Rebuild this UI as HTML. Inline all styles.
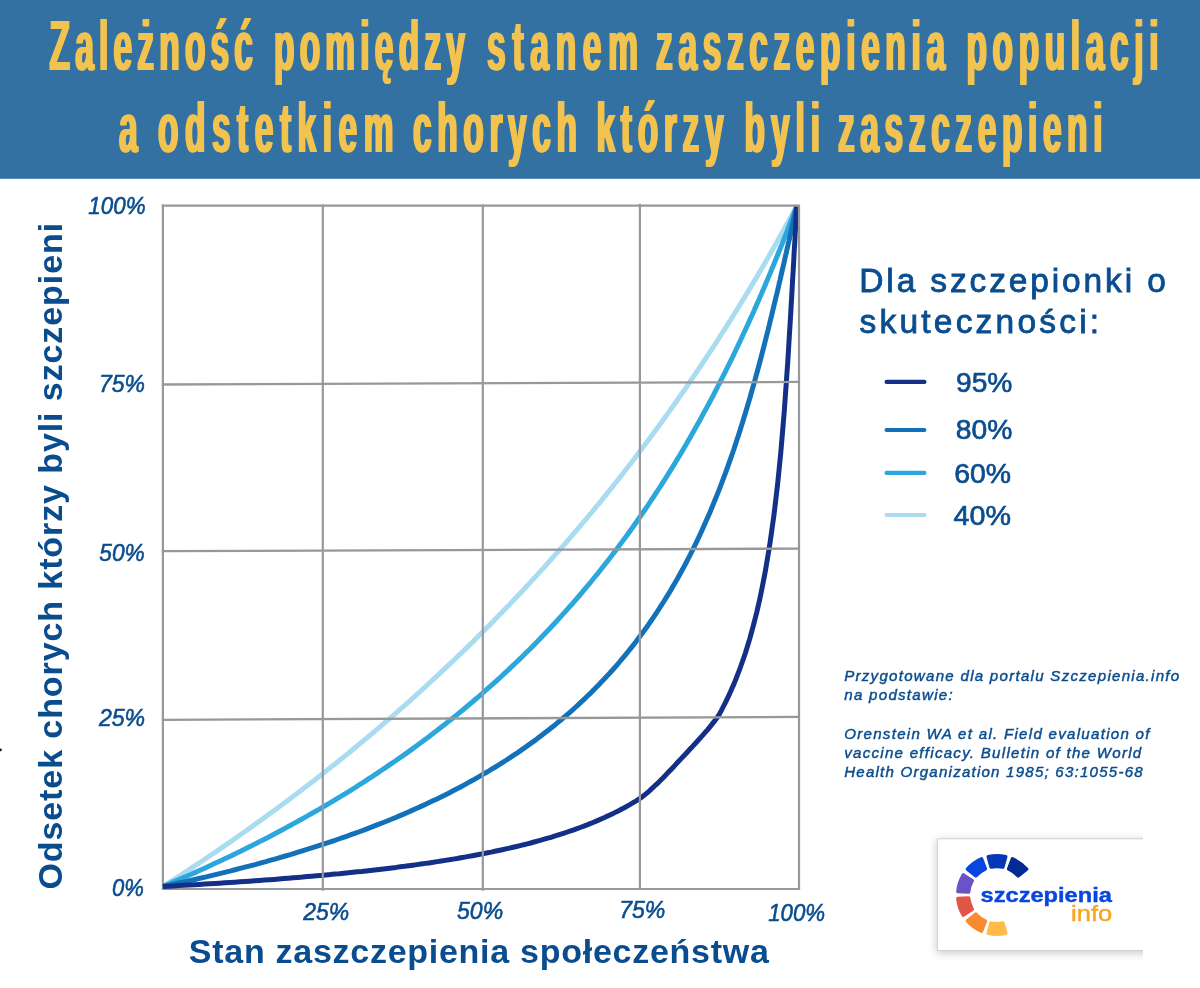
<!DOCTYPE html>
<html lang="pl"><head><meta charset="utf-8"><title>Zależność pomiędzy stanem zaszczepienia populacji a odstetkiem chorych którzy byli zaszczepieni</title>
<style>
html,body{margin:0;padding:0;background:#fff;}
body{width:1200px;height:988px;overflow:hidden;font-family:"Liberation Sans",sans-serif;}
svg{display:block}
text{font-family:"Liberation Sans",sans-serif;}
.tick{font-style:italic;font-size:23.5px;fill:#0a4d8f;stroke:#0a4d8f;stroke-width:.55px}
.ax{font-weight:bold;font-size:34px;fill:#0a4d8f}
.leg{font-size:28.3px;fill:#0a4d8f;stroke:#0a4d8f;stroke-width:.7px}
.cred{font-style:italic;font-size:15.1px;fill:#0a4d8f;stroke:#0a4d8f;stroke-width:.45px}
.title{font-weight:bold;font-size:70.5px;fill:#f2c34f}
</style></head><body>
<svg width="1200" height="988" viewBox="0 0 1200 988">
<defs>
<filter id="sh" x="-20%" y="-20%" width="140%" height="150%"><feGaussianBlur stdDeviation="4.2"/></filter>
<filter id="hb" x="-2%" y="-10%" width="104%" height="130%"><feOffset in="SourceGraphic" dx="-1.3" result="a"/><feOffset in="SourceGraphic" dx="1.3" result="b"/><feMerge><feMergeNode in="a"/><feMergeNode in="SourceGraphic"/><feMergeNode in="b"/></feMerge></filter>
<clipPath id="plot"><rect x="161.8" y="204.5" width="638.3" height="685.6"/></clipPath>
<clipPath id="logoclip"><rect x="900" y="800" width="243" height="188"/></clipPath>
</defs>
<rect x="0" y="0" width="1200" height="178.8" fill="#3471a3"/>

<g filter="url(#hb)">
<text class="title" transform="translate(0,70.0) scale(0.475,1)" y="0"><tspan x="104.2" textLength="428.4" lengthAdjust="spacing">Zależność</tspan> <tspan x="576.8" textLength="402.1" lengthAdjust="spacing">pomiędzy</tspan> <tspan x="1025.3" textLength="317.9" lengthAdjust="spacing">stanem</tspan> <tspan x="1381.1" textLength="608.4" lengthAdjust="spacing">zaszczepienia</tspan> <tspan x="2034.7" textLength="404.2" lengthAdjust="spacing">populacji</tspan></text>
<text class="title" transform="translate(0,151.6) scale(0.475,1)" y="0"><tspan x="250.5" textLength="34.7" lengthAdjust="spacing">a</tspan> <tspan x="332.6" textLength="495.8" lengthAdjust="spacing">odstetkiem</tspan> <tspan x="869.5" textLength="345.3" lengthAdjust="spacing">chorych</tspan> <tspan x="1255.8" textLength="267.4" lengthAdjust="spacing">którzy</tspan> <tspan x="1567.4" textLength="158.9" lengthAdjust="spacing">byli</tspan> <tspan x="1764.2" textLength="556.8" lengthAdjust="spacing">zaszczepieni</tspan></text>
</g>
<path d="M162.9,890.1 V204.5 M161.8,889 H800.1" fill="none" stroke="#96989a" stroke-width="2.2"/>
<g clip-path="url(#plot)">
<path d="M162.9,886.5 L168.2,883.1 L173.6,879.7 L178.9,876.3 L184.2,872.8 L189.4,869.4 L194.6,865.9 L199.9,862.5 L205.1,859.0 L210.2,855.5 L215.4,852.1 L220.5,848.6 L225.6,845.1 L230.7,841.6 L235.7,838.1 L240.7,834.5 L245.8,831.0 L250.7,827.5 L255.7,823.9 L260.6,820.4 L265.6,816.8 L270.4,813.3 L275.3,809.7 L280.2,806.1 L285.0,802.5 L289.8,798.9 L294.6,795.3 L299.3,791.7 L304.1,788.1 L308.8,784.5 L313.5,780.9 L318.1,777.3 L322.8,773.6 L327.4,770.0 L332.0,766.3 L336.6,762.7 L341.1,759.0 L345.7,755.4 L350.2,751.7 L354.6,748.0 L359.1,744.3 L363.5,740.7 L368.0,737.0 L372.4,733.3 L376.7,729.6 L381.1,725.9 L385.4,722.2 L389.7,718.5 L394.0,714.8 L398.2,711.0 L402.5,707.3 L406.7,703.6 L410.9,699.9 L415.0,696.1 L419.2,692.4 L423.3,688.7 L427.4,684.9 L431.4,681.2 L435.5,677.4 L439.5,673.7 L443.5,669.9 L447.5,666.2 L451.5,662.4 L455.4,658.7 L459.3,654.9 L463.2,651.2 L467.1,647.4 L470.9,643.7 L474.7,639.9 L478.5,636.1 L482.3,632.4 L486.0,628.6 L489.8,624.9 L493.5,621.1 L497.1,617.3 L500.8,613.6 L504.4,609.8 L508.1,606.1 L511.6,602.3 L515.2,598.6 L518.8,594.8 L522.3,591.1 L525.8,587.3 L529.2,583.6 L532.7,579.8 L536.1,576.1 L539.5,572.4 L542.9,568.6 L546.3,564.9 L549.6,561.2 L552.9,557.4 L556.2,553.7 L559.5,550.0 L562.7,546.3 L566.0,542.6 L569.2,538.9 L572.3,535.2 L575.5,531.5 L578.6,527.9 L581.7,524.2 L584.8,520.5 L587.9,516.9 L590.9,513.2 L593.9,509.6 L596.9,505.9 L599.9,502.3 L602.9,498.7 L605.8,495.1 L608.7,491.4 L611.6,487.9 L614.4,484.3 L617.3,480.7 L620.1,477.1 L622.9,473.6 L625.6,470.0 L628.4,466.5 L631.1,463.0 L633.8,459.4 L636.5,455.9 L639.1,452.5 L641.7,449.0 L644.3,445.5 L646.9,442.1 L649.5,438.6 L652.0,435.2 L654.6,431.8 L657.0,428.4 L659.5,425.0 L662.0,421.6 L664.4,418.3 L666.8,414.9 L669.2,411.6 L671.5,408.3 L673.9,405.0 L676.2,401.7 L678.5,398.4 L680.7,395.2 L683.0,392.0 L685.2,388.8 L687.4,385.6 L689.6,382.4 L691.7,379.2 L693.9,376.1 L696.0,373.0 L698.1,369.9 L700.1,366.8 L702.2,363.8 L704.2,360.7 L706.2,357.7 L708.2,354.7 L710.1,351.7 L712.1,348.8 L714.0,345.9 L715.9,343.0 L717.7,340.1 L719.6,337.2 L721.4,334.4 L723.2,331.5 L725.0,328.8 L726.7,326.0 L728.5,323.2 L730.2,320.5 L731.9,317.8 L733.5,315.2 L735.2,312.5 L736.8,309.9 L738.4,307.3 L740.0,304.7 L741.5,302.2 L743.1,299.7 L744.6,297.2 L746.1,294.8 L747.5,292.3 L749.0,289.9 L750.4,287.6 L751.8,285.2 L753.2,282.9 L754.6,280.6 L755.9,278.4 L757.2,276.2 L758.5,274.0 L759.8,271.8 L761.0,269.7 L762.3,267.6 L763.5,265.5 L764.6,263.5 L765.8,261.5 L766.9,259.5 L768.1,257.5 L769.2,255.6 L770.2,253.7 L771.3,251.9 L772.3,250.1 L773.3,248.3 L774.3,246.6 L775.3,244.9 L776.3,243.2 L777.2,241.5 L778.1,239.9 L779.0,238.4 L779.8,236.8 L780.7,235.3 L781.5,233.9 L782.3,232.4 L783.1,231.0 L783.8,229.7 L784.5,228.4 L785.3,227.1 L785.9,225.8 L786.6,224.6 L787.3,223.4 L787.9,222.3 L788.5,221.2 L789.1,220.1 L789.6,219.1 L790.2,218.1 L790.7,217.2 L791.2,216.3 L791.7,215.4 L792.1,214.5 L792.6,213.7 L793.0,213.0 L793.4,212.3 L793.7,211.6 L794.1,210.9 L794.4,210.3 L794.7,209.8 L795.0,209.2 L795.3,208.7 L795.5,208.3 L795.7,207.9 L795.9,207.5 L796.1,207.2 L796.3,206.9 L796.4,206.6 L796.5,206.4 L796.6,206.2 L796.7,206.1 L796.8,206.0 L796.8,205.9 L796.8,205.9" fill="none" stroke="#a9dcf0" stroke-width="5" stroke-linejoin="round" stroke-linecap="butt"/>
<path d="M162.9,886.5 L168.3,884.2 L173.6,881.9 L178.9,879.6 L184.2,877.3 L189.5,875.0 L194.8,872.6 L200.0,870.3 L205.2,867.9 L210.4,865.5 L215.5,863.1 L220.7,860.7 L225.8,858.3 L230.9,855.9 L235.9,853.4 L241.0,851.0 L246.0,848.5 L251.0,846.0 L256.0,843.5 L260.9,840.9 L265.9,838.4 L270.8,835.9 L275.7,833.3 L280.5,830.7 L285.4,828.1 L290.2,825.5 L295.0,822.9 L299.7,820.3 L304.5,817.6 L309.2,814.9 L313.9,812.3 L318.6,809.6 L323.2,806.8 L327.9,804.1 L332.5,801.4 L337.1,798.6 L341.6,795.9 L346.2,793.1 L350.7,790.3 L355.2,787.5 L359.6,784.6 L364.1,781.8 L368.5,778.9 L372.9,776.1 L377.3,773.2 L381.6,770.3 L385.9,767.4 L390.2,764.4 L394.5,761.5 L398.8,758.5 L403.0,755.6 L407.2,752.6 L411.4,749.6 L415.6,746.5 L419.7,743.5 L423.8,740.5 L427.9,737.4 L432.0,734.3 L436.0,731.2 L440.1,728.1 L444.1,725.0 L448.0,721.9 L452.0,718.7 L455.9,715.6 L459.8,712.4 L463.7,709.2 L467.5,706.0 L471.4,702.8 L475.2,699.5 L479.0,696.3 L482.7,693.0 L486.5,689.7 L490.2,686.4 L493.9,683.1 L497.6,679.8 L501.2,676.5 L504.8,673.1 L508.4,669.8 L512.0,666.4 L515.6,663.0 L519.1,659.6 L522.6,656.2 L526.1,652.8 L529.5,649.4 L533.0,645.9 L536.4,642.5 L539.8,639.0 L543.1,635.5 L546.5,632.0 L549.8,628.5 L553.1,625.0 L556.3,621.5 L559.6,617.9 L562.8,614.4 L566.0,610.8 L569.2,607.2 L572.4,603.7 L575.5,600.1 L578.6,596.5 L581.7,592.8 L584.7,589.2 L587.8,585.6 L590.8,582.0 L593.8,578.3 L596.8,574.7 L599.7,571.0 L602.6,567.3 L605.5,563.6 L608.4,560.0 L611.3,556.3 L614.1,552.6 L616.9,548.9 L619.7,545.1 L622.4,541.4 L625.2,537.7 L627.9,534.0 L630.6,530.2 L633.3,526.5 L635.9,522.8 L638.5,519.0 L641.1,515.3 L643.7,511.5 L646.3,507.8 L648.8,504.0 L651.3,500.2 L653.8,496.5 L656.3,492.7 L658.7,489.0 L661.2,485.2 L663.6,481.4 L665.9,477.7 L668.3,473.9 L670.6,470.2 L673.0,466.4 L675.2,462.7 L677.5,458.9 L679.8,455.2 L682.0,451.4 L684.2,447.7 L686.4,444.0 L688.5,440.3 L690.7,436.6 L692.8,432.8 L694.9,429.1 L696.9,425.4 L699.0,421.8 L701.0,418.1 L703.0,414.4 L705.0,410.8 L707.0,407.1 L708.9,403.5 L710.9,399.9 L712.8,396.3 L714.6,392.7 L716.5,389.1 L718.3,385.5 L720.1,382.0 L721.9,378.4 L723.7,374.9 L725.5,371.4 L727.2,367.9 L728.9,364.5 L730.6,361.0 L732.3,357.6 L733.9,354.2 L735.5,350.8 L737.1,347.5 L738.7,344.1 L740.3,340.8 L741.8,337.5 L743.3,334.3 L744.8,331.0 L746.3,327.8 L747.8,324.6 L749.2,321.5 L750.6,318.3 L752.0,315.2 L753.4,312.2 L754.7,309.1 L756.1,306.1 L757.4,303.1 L758.7,300.2 L759.9,297.3 L761.2,294.4 L762.4,291.5 L763.6,288.7 L764.8,286.0 L765.9,283.2 L767.1,280.5 L768.2,277.9 L769.3,275.2 L770.4,272.7 L771.4,270.1 L772.5,267.6 L773.5,265.1 L774.5,262.7 L775.5,260.3 L776.4,258.0 L777.3,255.7 L778.2,253.5 L779.1,251.3 L780.0,249.1 L780.8,247.0 L781.7,244.9 L782.5,242.9 L783.3,241.0 L784.0,239.1 L784.7,237.2 L785.5,235.4 L786.2,233.6 L786.8,231.9 L787.5,230.2 L788.1,228.6 L788.7,227.0 L789.3,225.5 L789.9,224.1 L790.4,222.7 L790.9,221.3 L791.4,220.0 L791.9,218.8 L792.4,217.6 L792.8,216.5 L793.2,215.4 L793.6,214.4 L794.0,213.4 L794.3,212.5 L794.6,211.7 L794.9,210.9 L795.2,210.1 L795.5,209.5 L795.7,208.8 L795.9,208.3 L796.1,207.8 L796.3,207.3 L796.4,207.0 L796.5,206.6 L796.6,206.4 L796.7,206.2 L796.8,206.0 L796.8,205.9 L796.8,205.9" fill="none" stroke="#2ba7dd" stroke-width="5" stroke-linejoin="round" stroke-linecap="butt"/>
<path d="M162.9,886.5 L168.3,885.4 L173.6,884.2 L178.9,883.0 L184.2,881.9 L189.5,880.7 L194.7,879.5 L199.9,878.3 L205.2,877.1 L210.3,875.9 L215.5,874.6 L220.6,873.4 L225.7,872.1 L230.8,870.8 L235.9,869.5 L241.0,868.2 L246.0,866.9 L251.0,865.6 L256.0,864.3 L260.9,862.9 L265.9,861.6 L270.8,860.2 L275.7,858.8 L280.6,857.4 L285.4,856.0 L290.3,854.6 L295.1,853.1 L299.8,851.7 L304.6,850.2 L309.3,848.7 L314.1,847.2 L318.8,845.7 L323.4,844.2 L328.1,842.7 L332.7,841.1 L337.3,839.5 L341.9,837.9 L346.5,836.3 L351.0,834.7 L355.5,833.1 L360.0,831.5 L364.5,829.8 L368.9,828.1 L373.3,826.4 L377.7,824.7 L382.1,823.0 L386.5,821.2 L390.8,819.5 L395.1,817.7 L399.4,815.9 L403.7,814.1 L407.9,812.2 L412.1,810.4 L416.3,808.5 L420.5,806.6 L424.7,804.7 L428.8,802.8 L432.9,800.8 L437.0,798.9 L441.0,796.9 L445.1,794.9 L449.1,792.9 L453.1,790.8 L457.1,788.7 L461.0,786.7 L464.9,784.6 L468.8,782.4 L472.7,780.3 L476.5,778.1 L480.4,775.9 L484.2,773.7 L488.0,771.5 L491.7,769.2 L495.4,767.0 L499.2,764.7 L502.8,762.3 L506.5,760.0 L510.1,757.6 L513.8,755.2 L517.4,752.8 L520.9,750.4 L524.5,747.9 L528.0,745.4 L531.5,742.9 L535.0,740.4 L538.4,737.8 L541.8,735.2 L545.2,732.6 L548.6,730.0 L552.0,727.3 L555.3,724.7 L558.6,721.9 L561.9,719.2 L565.1,716.4 L568.4,713.6 L571.6,710.8 L574.7,708.0 L577.9,705.1 L581.0,702.2 L584.1,699.3 L587.2,696.3 L590.3,693.4 L593.3,690.3 L596.3,687.3 L599.3,684.2 L602.3,681.1 L605.2,678.0 L608.1,674.9 L611.0,671.7 L613.9,668.5 L616.7,665.3 L619.5,662.0 L622.3,658.7 L625.1,655.4 L627.8,652.0 L630.5,648.6 L633.2,645.2 L635.9,641.8 L638.5,638.3 L641.1,634.8 L643.7,631.3 L646.3,627.7 L648.8,624.1 L651.3,620.5 L653.8,616.9 L656.3,613.2 L658.7,609.5 L661.1,605.7 L663.5,602.0 L665.9,598.2 L668.2,594.4 L670.6,590.5 L672.8,586.6 L675.1,582.7 L677.4,578.8 L679.6,574.8 L681.8,570.8 L683.9,566.8 L686.1,562.7 L688.2,558.7 L690.3,554.6 L692.4,550.4 L694.4,546.3 L696.5,542.1 L698.5,537.9 L700.4,533.7 L702.4,529.4 L704.3,525.1 L706.2,520.8 L708.1,516.5 L710.0,512.2 L711.8,507.8 L713.6,503.4 L715.4,499.0 L717.2,494.6 L719.0,490.1 L720.7,485.7 L722.4,481.2 L724.1,476.7 L725.8,472.2 L727.4,467.7 L729.0,463.1 L730.6,458.6 L732.2,454.0 L733.8,449.5 L735.3,444.9 L736.8,440.3 L738.3,435.7 L739.8,431.1 L741.2,426.5 L742.7,421.9 L744.1,417.3 L745.5,412.7 L746.9,408.1 L748.2,403.5 L749.6,398.9 L750.9,394.3 L752.2,389.7 L753.5,385.2 L754.8,380.6 L756.0,376.1 L757.3,371.5 L758.5,367.0 L759.7,362.5 L760.9,358.0 L762.0,353.6 L763.2,349.2 L764.3,344.8 L765.4,340.4 L766.5,336.1 L767.6,331.8 L768.7,327.5 L769.7,323.2 L770.7,319.0 L771.8,314.9 L772.7,310.8 L773.7,306.7 L774.7,302.7 L775.6,298.7 L776.6,294.8 L777.5,291.0 L778.4,287.2 L779.2,283.4 L780.1,279.8 L780.9,276.1 L781.7,272.6 L782.5,269.1 L783.3,265.7 L784.1,262.4 L784.8,259.1 L785.5,255.9 L786.3,252.8 L786.9,249.8 L787.6,246.9 L788.2,244.0 L788.9,241.3 L789.5,238.6 L790.0,236.0 L790.6,233.6 L791.1,231.2 L791.7,228.9 L792.1,226.7 L792.6,224.6 L793.1,222.6 L793.5,220.8 L793.9,219.0 L794.2,217.3 L794.6,215.8 L794.9,214.3 L795.2,213.0 L795.5,211.8 L795.7,210.7 L796.0,209.7 L796.2,208.8 L796.3,208.0 L796.5,207.4 L796.6,206.8 L796.7,206.4 L796.7,206.1 L796.8,206.0 L796.8,205.9" fill="none" stroke="#1271b8" stroke-width="5" stroke-linejoin="round" stroke-linecap="butt"/>
<path d="M162.9,886.5 L168.2,886.2 L173.4,885.9 L178.7,885.6 L183.9,885.3 L189.1,885.0 L194.3,884.7 L199.4,884.4 L204.6,884.1 L209.7,883.8 L214.8,883.5 L219.8,883.2 L224.9,882.8 L229.9,882.5 L234.9,882.2 L239.9,881.8 L244.8,881.5 L249.8,881.2 L254.7,880.8 L259.6,880.5 L264.4,880.1 L269.3,879.7 L274.1,879.4 L278.9,879.0 L283.7,878.6 L288.4,878.2 L293.2,877.8 L297.9,877.4 L302.6,877.1 L307.3,876.6 L311.9,876.2 L316.5,875.8 L321.1,875.4 L325.7,875.0 L330.3,874.6 L334.8,874.1 L339.4,873.7 L343.9,873.2 L348.3,872.8 L352.8,872.3 L357.2,871.8 L361.6,871.4 L366.0,870.9 L370.4,870.4 L374.7,869.9 L379.0,869.4 L383.4,868.9 L387.6,868.4 L391.9,867.9 L396.1,867.4 L400.3,866.8 L404.5,866.3 L408.7,865.7 L412.8,865.2 L417.0,864.6 L421.1,864.0 L425.2,863.4 L429.2,862.9 L433.3,862.3 L437.3,861.6 L441.3,861.0 L445.3,860.4 L449.2,859.8 L453.1,859.1 L457.0,858.5 L460.9,857.8 L464.8,857.1 L468.6,856.4 L472.5,855.7 L476.3,855.0 L480.0,854.3 L483.8,853.6 L487.5,852.8 L491.2,852.1 L494.9,851.3 L498.6,850.5 L502.3,849.7 L505.9,848.9 L509.5,848.1 L513.1,847.3 L516.6,846.5 L520.2,845.6 L523.7,844.7 L527.2,843.9 L530.7,843.0 L534.1,842.0 L537.5,841.1 L540.9,840.2 L544.3,839.2 L547.7,838.2 L551.0,837.3 L554.4,836.2 L557.7,835.2 L560.9,834.2 L564.2,833.1 L567.4,832.0 L570.6,830.9 L573.8,829.8 L577.0,828.7 L580.2,827.5 L583.3,826.4 L586.4,825.2 L589.5,823.9 L592.5,822.7 L595.6,821.4 L598.6,820.1 L601.6,818.8 L604.6,817.5 L607.5,816.1 L610.4,814.8 L613.3,813.4 L616.2,811.9 L619.1,810.5 L621.9,809.0 L624.8,807.5 L627.6,805.9 L630.3,804.3 L633.1,802.7 L635.8,801.1 L638.5,799.4 L641.2,797.6 L643.9,795.5 L646.5,793.4 L649.2,791.1 L651.8,788.7 L654.3,786.3 L656.9,783.9 L659.4,781.4 L661.9,778.9 L664.4,776.4 L666.9,773.8 L669.3,771.3 L671.8,768.7 L674.2,766.2 L676.5,763.6 L678.9,761.1 L681.2,758.6 L683.6,756.1 L685.8,753.7 L688.1,751.2 L690.3,748.8 L692.6,746.4 L694.8,744.0 L696.9,741.7 L699.1,739.3 L701.2,736.9 L703.3,734.6 L705.4,732.2 L707.5,729.8 L709.5,727.4 L711.5,724.9 L713.5,722.4 L715.5,719.9 L717.4,717.2 L719.4,714.0 L721.3,710.6 L723.1,707.0 L725.0,703.4 L726.8,699.7 L728.6,695.9 L730.4,692.0 L732.1,688.1 L733.9,684.1 L735.6,679.9 L737.2,675.7 L738.9,671.4 L740.5,667.0 L742.1,662.5 L743.7,658.0 L745.3,653.3 L746.8,648.5 L748.3,643.6 L749.8,638.6 L751.2,633.5 L752.6,628.3 L754.0,623.0 L755.4,617.6 L756.8,612.1 L758.1,606.4 L759.4,600.7 L760.7,594.8 L761.9,588.8 L763.1,582.7 L764.3,576.5 L765.5,570.2 L766.6,563.7 L767.7,557.1 L768.8,550.5 L769.9,543.7 L770.9,536.7 L771.9,529.7 L772.9,522.5 L773.9,515.3 L774.8,507.9 L775.7,500.4 L776.6,492.8 L777.5,485.1 L778.3,477.3 L779.1,469.4 L779.9,461.5 L780.7,453.4 L781.4,445.3 L782.1,437.0 L782.8,428.8 L783.5,420.4 L784.2,412.1 L784.8,403.7 L785.4,395.2 L786.0,386.8 L786.6,378.3 L787.2,369.9 L787.8,361.5 L788.3,353.1 L788.8,344.8 L789.3,336.5 L789.8,328.4 L790.3,320.3 L790.8,312.3 L791.2,304.5 L791.7,296.9 L792.1,289.4 L792.5,282.1 L792.9,275.1 L793.3,268.3 L793.7,261.7 L794.0,255.4 L794.3,249.4 L794.7,243.7 L795.0,238.4 L795.2,233.4 L795.5,228.8 L795.7,224.5 L796.0,220.7 L796.1,217.3 L796.3,214.3 L796.5,211.8 L796.6,209.7 L796.7,208.0 L796.7,206.8 L796.8,206.1 L796.8,205.9" fill="none" stroke="#142f87" stroke-width="5" stroke-linejoin="round" stroke-linecap="butt"/>
</g>
<path d="M161.8,205.6 H799 V890.1" fill="none" stroke="#96989a" stroke-width="2.2"/>
<line x1="322.8" y1="204.4" x2="322.8" y2="890.8" stroke="#96989a" stroke-width="2.2"/>
<line x1="482.8" y1="204.4" x2="482.8" y2="890.8" stroke="#96989a" stroke-width="2.2"/>
<line x1="639.9" y1="203.8" x2="639.9" y2="890.1" stroke="#96989a" stroke-width="2.2"/>
<line x1="161.8" y1="384.5" x2="800.1" y2="381.9" stroke="#96989a" stroke-width="2.3"/>
<line x1="161.8" y1="551.2" x2="800.1" y2="548.6" stroke="#96989a" stroke-width="2.3"/>
<line x1="161.8" y1="719.9" x2="800.1" y2="716.9" stroke="#96989a" stroke-width="2.3"/>
<text class="tick" x="88.3" y="213.9" textLength="57.3" lengthAdjust="spacingAndGlyphs">100%</text>
<text class="tick" x="98.9" y="392.1" textLength="46.0" lengthAdjust="spacingAndGlyphs">75%</text>
<text class="tick" x="99.3" y="561.0" textLength="45.5" lengthAdjust="spacingAndGlyphs">50%</text>
<text class="tick" x="98.9" y="726.0" textLength="46.2" lengthAdjust="spacingAndGlyphs">25%</text>
<text class="tick" x="112" y="895.6" textLength="31.8" lengthAdjust="spacingAndGlyphs">0%</text>
<text class="tick" x="303.2" y="919.8" textLength="46" lengthAdjust="spacingAndGlyphs">25%</text>
<text class="tick" x="457" y="919.3" textLength="46.2" lengthAdjust="spacingAndGlyphs">50%</text>
<text class="tick" x="619.2" y="918.2" textLength="46.2" lengthAdjust="spacingAndGlyphs">75%</text>
<text class="tick" x="768.2" y="920.7" textLength="57" lengthAdjust="spacingAndGlyphs">100%</text>
<text class="ax" transform="translate(62.3,889.6) rotate(-90)" x="0" y="0" textLength="666.7" lengthAdjust="spacing">Odsetek chorych którzy byli szczepieni</text>
<text class="ax" x="188.8" y="963.3" textLength="580" lengthAdjust="spacing">Stan zaszczepienia społeczeństwa</text>
<text x="859.3" y="291.7" font-size="33.5" fill="#0a4d8f" stroke="#0a4d8f" stroke-width=".85" textLength="306.5" lengthAdjust="spacing">Dla szczepionki o</text>
<text x="859.6" y="333" font-size="33.5" fill="#0a4d8f" stroke="#0a4d8f" stroke-width=".85" textLength="239.5" lengthAdjust="spacing">skuteczności:</text>
<line x1="886.6" y1="381.9" x2="924.4" y2="381.9" stroke="#142f87" stroke-width="4.2" stroke-linecap="round"/>
<text class="leg" x="956.0" y="392.2" textLength="56.3" lengthAdjust="spacingAndGlyphs">95%</text>
<line x1="886.6" y1="430" x2="924.4" y2="430" stroke="#1271b8" stroke-width="4.2" stroke-linecap="round"/>
<text class="leg" x="955.8" y="438.9" textLength="56.5" lengthAdjust="spacingAndGlyphs">80%</text>
<line x1="886.6" y1="472.9" x2="924.4" y2="472.9" stroke="#2ba7dd" stroke-width="4.2" stroke-linecap="round"/>
<text class="leg" x="954.2" y="482.6" textLength="56.8" lengthAdjust="spacingAndGlyphs">60%</text>
<line x1="886.6" y1="515" x2="924.4" y2="515" stroke="#a9dcf0" stroke-width="4.2" stroke-linecap="round"/>
<text class="leg" x="953.6" y="524.6" textLength="57.4" lengthAdjust="spacingAndGlyphs">40%</text>
<text class="cred" x="844.2" y="681" textLength="335" lengthAdjust="spacing">Przygotowane dla portalu Szczepienia.info</text>
<text class="cred" x="844.2" y="700.4" textLength="108.5" lengthAdjust="spacing">na podstawie:</text>
<text class="cred" x="844.2" y="738.8" textLength="305.3" lengthAdjust="spacing">Orenstein WA et al. Field evaluation of</text>
<text class="cred" x="844.2" y="757.9" textLength="297" lengthAdjust="spacing">vaccine efficacy. Bulletin of the World</text>
<text class="cred" x="844.2" y="776.9" textLength="298.5" lengthAdjust="spacing">Health Organization 1985; 63:1055-68</text>
<rect x="0" y="748.6" width="1.6" height="2.6" fill="#111"/>
<g clip-path="url(#logoclip)">
<rect x="936.5" y="840" width="230" height="113.5" fill="#000" opacity=".2" filter="url(#sh)"/>
<rect x="937.5" y="838.8" width="230" height="111.7" fill="#fff" stroke="#d2d2d2" stroke-width="1"/>
</g>
<path d="M1005.79,933.30 A39.30,39.30 0 0 1 988.21,933.30 L991.08,922.88 A28.50,28.50 0 0 0 1002.92,922.88 Z" fill="#ffbb47" stroke="#ffbb47" stroke-width="3.4" stroke-linejoin="round"/>
<path d="M981.59,931.15 A39.30,39.30 0 0 1 967.38,920.82 L975.83,914.08 A28.50,28.50 0 0 0 985.40,921.03 Z" fill="#fb8a2e" stroke="#fb8a2e" stroke-width="3.4" stroke-linejoin="round"/>
<path d="M963.29,915.19 A39.30,39.30 0 0 1 957.85,898.48 L968.66,897.99 A28.50,28.50 0 0 0 972.31,909.24 Z" fill="#e15545" stroke="#e15545" stroke-width="3.4" stroke-linejoin="round"/>
<path d="M957.85,891.52 A39.30,39.30 0 0 1 963.29,874.81 L972.31,880.76 A28.50,28.50 0 0 0 968.66,892.01 Z" fill="#6b52c9" stroke="#6b52c9" stroke-width="3.4" stroke-linejoin="round"/>
<path d="M967.38,869.18 A39.30,39.30 0 0 1 981.59,858.85 L985.40,868.97 A28.50,28.50 0 0 0 975.83,875.92 Z" fill="#0846e0" stroke="#0846e0" stroke-width="3.4" stroke-linejoin="round"/>
<path d="M988.21,856.70 A39.30,39.30 0 0 1 1005.79,856.70 L1002.92,867.12 A28.50,28.50 0 0 0 991.08,867.12 Z" fill="#0538b8" stroke="#0538b8" stroke-width="3.4" stroke-linejoin="round"/>
<path d="M1012.41,858.85 A39.30,39.30 0 0 1 1026.62,869.18 L1018.17,875.92 A28.50,28.50 0 0 0 1008.60,868.97 Z" fill="#042a94" stroke="#042a94" stroke-width="3.4" stroke-linejoin="round"/>
<text x="980.6" y="901.7" font-weight="bold" font-size="20.5" fill="#0846e0" stroke="#0846e0" stroke-width=".4" textLength="131.3" lengthAdjust="spacingAndGlyphs">szczepienia</text>
<text x="1071.0" y="921" font-size="21.3" fill="#f5a623" stroke="#f5a623" stroke-width=".45" textLength="41.2" lengthAdjust="spacingAndGlyphs">info</text>
</svg></body></html>
